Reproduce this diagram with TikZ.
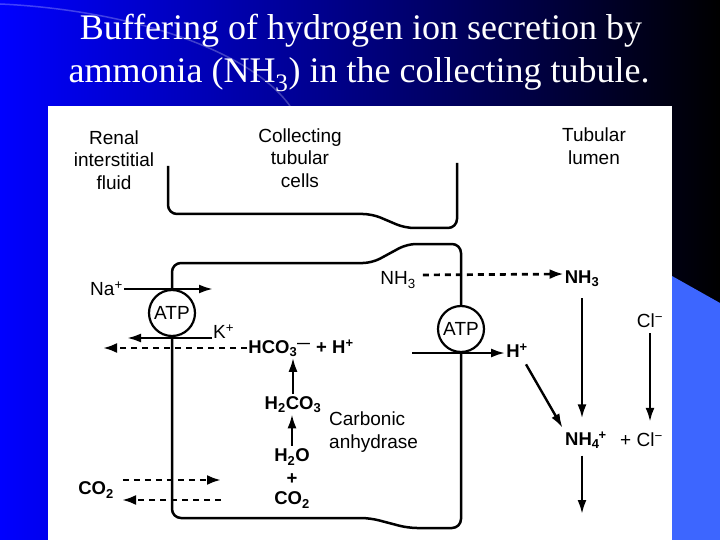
\documentclass[tikz,border=0pt]{standalone}
\usepackage{fontspec}
\setmainfont{Liberation Sans}
\newfontfamily\titlefont{Liberation Serif}
\usetikzlibrary{arrows.meta}
\newcommand\subsup[3]{\textsubscript{#1}\kern#3\textsuperscript{#2}}
\definecolor{slideblue}{RGB}{0,0,255}
\definecolor{lightpanel}{RGB}{61,102,255}
\begin{document}
\begin{tikzpicture}[x=1pt,y=-1pt,
  lbl/.style={font=\fontsize{19}{22.5}\selectfont, inner sep=1pt, align=center},
  chem/.style={font=\fontsize{18.5}{22}\selectfont\bfseries, inner sep=1pt},
  mem/.style={line width=2.5pt, rounded corners=9pt},
  arr/.style={line width=2.4pt, -{Latex[length=14pt,width=9pt]}},
  darr/.style={line width=2.7pt, dash pattern=on 6pt off 5pt, -{Latex[length=14pt,width=10pt]}},
  atp/.style={circle, draw, line width=2.2pt, minimum size=46pt, inner sep=0pt, fill=white, font=\fontsize{19}{22}\selectfont},
  ttl/.style={text=white, font=\titlefont\fontsize{36}{43}\selectfont, anchor=base, inner sep=0pt}]
\useasboundingbox (0,0) rectangle (720,540);
% background
\shade[left color=slideblue, right color=black] (0,0) rectangle (720,540);
\draw[line width=1.5pt, white, opacity=0.25] (0,4) .. controls (130,10) and (250,50) .. (290,106);
\fill[lightpanel] (672,276) -- (720,303) -- (720,540) -- (672,540) -- cycle;
\fill[white] (48,106) rectangle (672,540);
% title
\node[ttl] (t1) at (361,40) {Buffering of hydrogen ion secretion by};
\node[ttl] (t2) at (359,83) {ammonia (NH\textsubscript{3}) in the collecting tubule.};
% region labels
\node[lbl] (renal) at (114,160) {Renal\\interstitial\\fluid};
\node[lbl] (cells) at (300,158) {Collecting\\tubular\\cells};
\node[lbl] (lumen) at (594,146) {Tubular\\lumen};
% membranes
\draw[mem] (168,166) -- (168,214) -- (372,214) -- (405,228) -- (457,228) -- (457,163);
\node[atp] (atpL) at (172,313) {ATP};
\node[atp] (atpR) at (461,329) {ATP};
\draw[mem] (atpL.north) -- (172,263) -- (372,263) -- (407,244) -- (461,244) -- (atpR.north);
\draw[mem] (atpL.south) -- (172,518) -- (370,518) -- (408,528) -- (461,528) -- (atpR.south);
% left side
\node[lbl, anchor=east] (na) at (124,289) {Na\textsuperscript{+}};
\coordinate (naEnd) at (213,289);
\draw[arr] (na.east) -- (naEnd);
\node[lbl, anchor=west] (k) at (212,332) {K\textsuperscript{+}};
\coordinate (kEnd) at (127,338);
\draw[arr] (k.west |- kEnd) -- (kEnd);
\node[chem] (hco3) at (301,348) {HCO\subsup{3}{—}{0em}\hspace{0.3em}+ H\textsuperscript{+}};
\coordinate (hco3End) at (103,348);
\draw[darr] (hco3.west) -- (hco3End);
\node[chem] (h2co3) at (293,405) {H\textsubscript{2}CO\textsubscript{3}};
\node[lbl, anchor=west, align=left] (ca) at (328,432) {Carbonic\\anhydrase};
\node[chem] (h2o) at (292,457) {H\textsubscript{2}O};
\node[chem] (plus) at (292,479) {+};
\node[chem] (co2b) at (292,500) {CO\textsubscript{2}};
\draw[arr, shorten <=2pt] (h2co3.north) -- (h2co3.north |- hco3.south);
\draw[arr, shorten <=2pt] (h2o.north) -- (h2o.north |- h2co3.south);
\node[chem] (co2L) at (96,490) {CO\textsubscript{2}};
\coordinate (c1e) at (221,480);
\coordinate (c2e) at (122,500);
\draw[darr] ([xshift=8pt]co2L.east |- c1e) -- (c1e);
\draw[darr] (c1e |- c2e) -- (c2e);
% right side
\node[lbl] (nh3C) at (398,280) {NH\textsubscript{3}};
\node[chem] (nh3L) at (582,279) {NH\textsubscript{3}};
\draw[darr, shorten <=6pt] ([yshift=5pt]nh3C.east) -- ([yshift=5pt]nh3L.west);
\node[chem] (hR) at (517,351) {H\textsuperscript{+}};
\coordinate (hStart) at (412,353);
\draw[arr] (hStart) -- (hR.west |- hStart);
\node[chem] (nh4) at (586,440) {NH\subsup{4}{+}{-0.05em}};
\node[lbl, anchor=west] (cl2) at (619,440) {+ Cl\textsuperscript{−}};
\node[lbl] (clA) at (650,321) {Cl\textsuperscript{−}};
\draw[arr, shorten <=6pt, shorten >=3pt] ([xshift=6pt]hR.south) -- (nh4.north west);
\draw[arr, shorten <=10pt, shorten >=12pt] (nh3L.south) -- (nh3L.south |- nh4.north);
\draw[arr, shorten <=4pt, shorten >=10pt] (clA.south) -- (clA.south |- cl2.north);
\coordinate (out) at (582,514);
\draw[arr, shorten <=6pt] (nh4.south -| out) -- (out);
\end{tikzpicture}
\end{document}
